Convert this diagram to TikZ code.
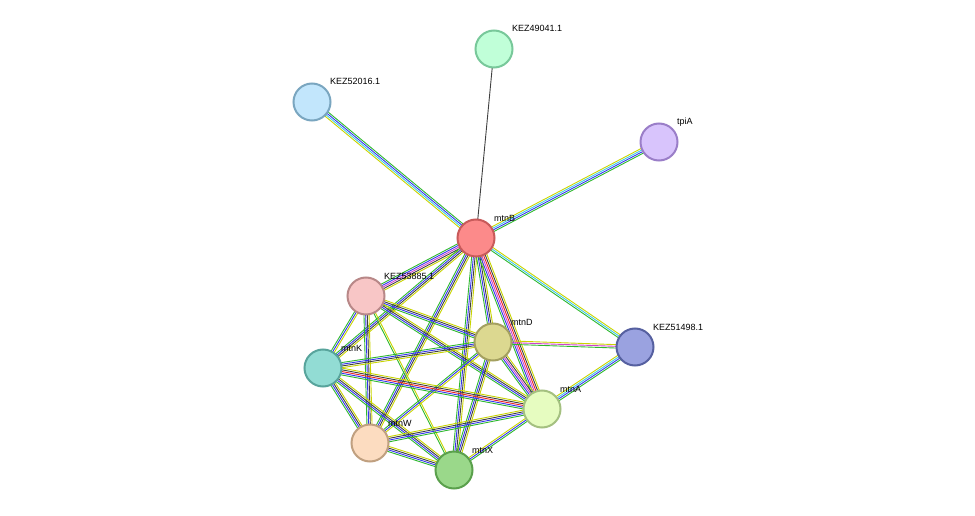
\documentclass[tikz,border=0pt]{standalone}
\usepackage{fontspec}
\setmainfont{Liberation Sans}
\usetikzlibrary{calc,backgrounds}
\definecolor{eY}{HTML}{C8D400}
\definecolor{eG}{HTML}{2EB82E}
\definecolor{eB}{HTML}{3535F0}
\definecolor{eK}{HTML}{404040}
\definecolor{eC}{HTML}{40C8E8}
\definecolor{eP}{HTML}{D040D0}
\definecolor{eR}{HTML}{EE2222}
\definecolor{f49}{HTML}{C0FFD8}\definecolor{d49}{HTML}{78C89A}
\definecolor{f52}{HTML}{C2E6FC}\definecolor{d52}{HTML}{7AA6C0}
\definecolor{ftp}{HTML}{D8C4FC}\definecolor{dtp}{HTML}{9A7EC8}
\definecolor{fB}{HTML}{FC8A8A}\definecolor{dB}{HTML}{C85A5A}
\definecolor{f53}{HTML}{F8C6C6}\definecolor{d53}{HTML}{B88888}
\definecolor{fD}{HTML}{DCD890}\definecolor{dD}{HTML}{A4A060}
\definecolor{f51}{HTML}{9AA2E0}\definecolor{d51}{HTML}{5660A0}
\definecolor{fK}{HTML}{92DCD4}\definecolor{dK}{HTML}{58A49C}
\definecolor{fA}{HTML}{E6FCC0}\definecolor{dA}{HTML}{A4C080}
\definecolor{fW}{HTML}{FCDCC0}\definecolor{dW}{HTML}{C0A080}
\definecolor{fX}{HTML}{9AD88A}\definecolor{dX}{HTML}{5AA04C}
\newcommand\edge[4]{%
  \foreach \c [count=\i] in {#4}{%
    \pgfmathsetmacro\o{(\i-(#3+1)/2)*1.7}
    \draw[line width=0.9pt,\c] ($(#1.center)!\o pt!90:(#2.center)$) -- ($(#2.center)!\o pt!-90:(#1.center)$);
  }}
\tikzset{
  prot/.style 2 args={circle,minimum size=37pt,inner sep=0,line width=2pt,fill=#1,draw=#2},
  lbl/.style={anchor=base west,font=\fontsize{9pt}{10pt}\selectfont,inner sep=0}
}
\begin{document}
\begin{tikzpicture}[x=1pt,y=-1pt]
\useasboundingbox (0,0) rectangle (975,516);
\node[prot={f49}{d49}] (k49) at (494,49) {};
\node[prot={f52}{d52}] (k52) at (312,102) {};
\node[prot={ftp}{dtp}] (tpi) at (659,142) {};
\node[prot={fB}{dB}] (B) at (476,238) {};
\node[prot={f53}{d53}] (k53) at (366,296) {};
\node[prot={fD}{dD}] (D) at (493,342) {};
\node[prot={f51}{d51}] (k51) at (635,347) {};
\node[prot={fK}{dK}] (K) at (323,368) {};
\node[prot={fA}{dA}] (A) at (542,409) {};
\node[prot={fW}{dW}] (W) at (370,443) {};
\node[prot={fX}{dX}] (X) at (454,470) {};
\foreach \n/\t in {k49/KEZ49041.1,k52/KEZ52016.1,tpi/tpiA,B/mtnB,k53/KEZ53885.1,D/mtnD,k51/KEZ51498.1,K/mtnK,A/mtnA,W/mtnW,X/mtnX}
  \node[lbl] (l\n) at ($(\n)+(18,-17)$) {\t};
\begin{scope}[on background layer]
\edge{B}{k49}{1}{eK}
\edge{B}{k52}{4}{eG,eB,eC,eY}
\edge{B}{tpi}{4}{eG,eB,eC,eY}
\edge{B}{k51}{3}{eG,eC,eY}
\edge{B}{k53}{5}{eG,eB,eP,eK,eY}
\edge{B}{K}{4}{eG,eB,eK,eY}
\edge{B}{W}{4}{eG,eB,eK,eY}
\edge{B}{X}{4}{eG,eB,eK,eY}
\edge{B}{D}{4}{eG,eB,eK,eY}
\edge{B}{A}{6}{eG,eB,eP,eR,eK,eY}
\edge{k53}{D}{4}{eG,eB,eK,eY}
\edge{k53}{K}{3}{eG,eB,eY}
\edge{k53}{W}{4}{eG,eB,eK,eY}
\edge{k53}{X}{2}{eG,eY}
\edge{k53}{A}{4}{eG,eB,eK,eY}
\edge{D}{K}{4}{eG,eB,eK,eY}
\edge{D}{W}{3}{eG,eB,eY}
\edge{D}{X}{4}{eG,eB,eK,eY}
\edge{D}{A}{5}{eG,eB,eP,eK,eY}
\edge{D}{k51}{3}{eG,eP,eY}
\edge{K}{A}{5}{eG,eB,eR,eK,eY}
\edge{K}{W}{4}{eG,eB,eK,eY}
\edge{K}{X}{4}{eG,eB,eK,eY}
\edge{W}{X}{4}{eG,eB,eK,eY}
\edge{W}{A}{4}{eG,eB,eK,eY}
\edge{X}{A}{3}{eG,eB,eY}
\edge{A}{k51}{4}{eG,eB,eC,eY}
\end{scope}
\end{tikzpicture}
\end{document}
